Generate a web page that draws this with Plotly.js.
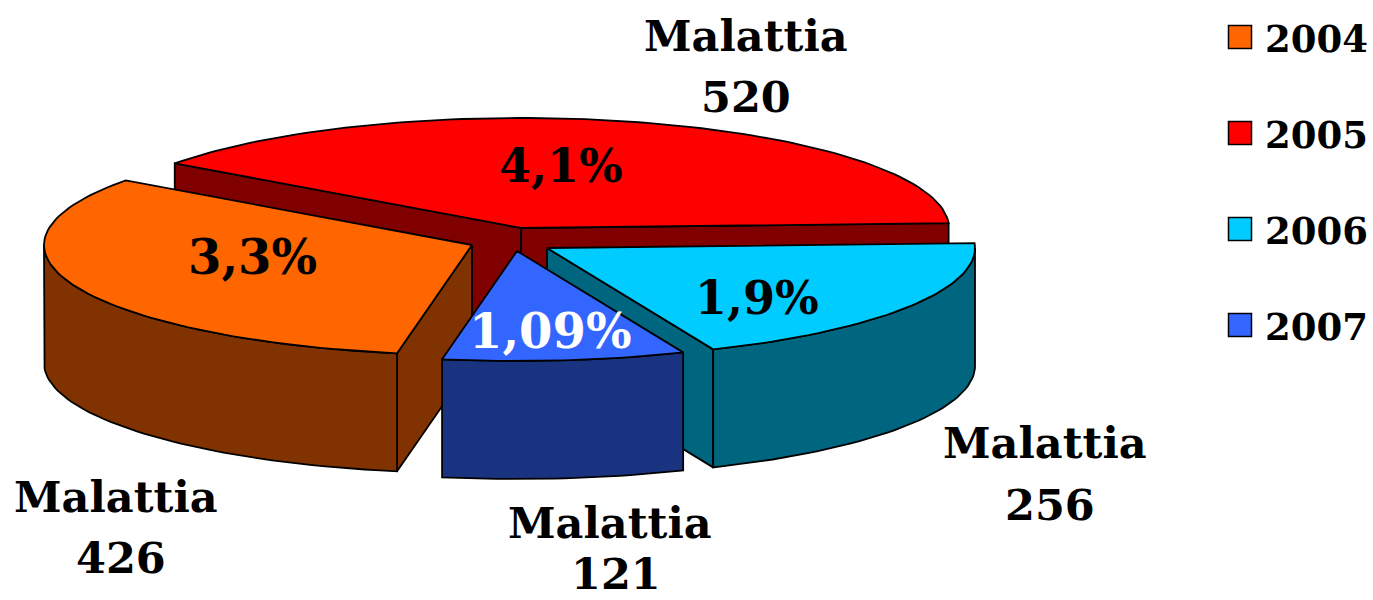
<!DOCTYPE html>
<html>
<head>
<meta charset="utf-8">
<script src="https://cdn.plot.ly/plotly-3.0.1.min.js"></script>
<style>html,body{margin:0;padding:0;background:#fff}#chart{width:1373px;height:600px}</style>
</head>
<body>
<div id="chart"></div>
<script>
// ---- data ----
var years = ['2004', '2005', '2006', '2007'];
var cases = [426, 520, 256, 121];
var rates = ['3,3%', '4,1%', '1,9%', '1,09%'];
var caseLabel = 'Malattia';

// ---- styles ----
var topColors  = ['#FF6600', '#FF0000', '#00CCFF', '#3366FF'];
var sideColors = ['#803300', '#800000', '#006680', '#1A3380'];
var rateColors = ['#000000', '#000000', '#000000', '#FFFFFF'];
var rateSizes  = [48, 46, 46, 48];

// ---- 3D projection parameters (canvas pixels) ----
var CX = 522, CY = 228, RX = 428, RY = 110, DEPTH = 118, START_DEG = 144;
var OFFSETS = [[-50, 17], [-1, 0], [25, 20], [-5, 23]];
var rateAnchors = [[252, 257], [561, 166], [757, 298], [550, 331]];
var labelAnchors = [[116, 497], [746, 36], [1045, 443], [610, 523]];
var valueAnchors = [[121, 558], [746, 97], [1050, 505], [616, 574]];
var legendX = 1240, legendY0 = 37, legendStep = 96;
var FONT = 'DejaVu Serif';

// slice angle spans from the values (clockwise from the start angle: red, cyan, blue, orange)
var total = cases.reduce(function (a, b) { return a + b; }, 0);
var order = [1, 2, 3, 0], spans = {}, cursor = START_DEG;
order.forEach(function (i) {
  var sweep = cases[i] / total * 360;
  spans[i] = [cursor, cursor - sweep];
  cursor -= sweep;
});
function rad(d) { return d * Math.PI / 180; }
function pt(i, deg, drop) {
  return [CX + OFFSETS[i][0] + RX * Math.cos(rad(deg)),
          CY + OFFSETS[i][1] - RY * Math.sin(rad(deg)) + (drop || 0)];
}
function apex(i, drop) { return [CX + OFFSETS[i][0], CY + OFFSETS[i][1] + (drop || 0)]; }
function arc(i, a, b, drop) {
  var pts = [], n = Math.max(2, Math.ceil(Math.abs(a - b) / 1.5));
  for (var k = 0; k <= n; k++) pts.push(pt(i, a + (b - a) * k / n, drop));
  return pts;
}
function poly(pts, fill, name) {
  var xs = pts.map(function (p) { return p[0]; });
  var ys = pts.map(function (p) { return p[1]; });
  xs.push(xs[0]); ys.push(ys[0]);
  return { type: 'scatter', mode: 'lines', x: xs, y: ys, fill: 'toself', fillcolor: fill,
           line: { color: '#000000', width: 1.8 }, hoverinfo: 'skip', showlegend: false, name: name };
}

var traces = [];
[1, 0, 2, 3].forEach(function (i) {
  var a = spans[i][0], b = spans[i][1], A = apex(i), Ad = apex(i, DEPTH), nm = years[i];
  // radial walls: a wall shows only where the top face lies above its edge
  if (Math.cos(rad(a)) < 0) traces.push(poly([A, pt(i, a), pt(i, a, DEPTH), Ad], sideColors[i], nm));
  if (Math.cos(rad(b)) > 0) traces.push(poly([A, pt(i, b), pt(i, b, DEPTH), Ad], sideColors[i], nm));
  // outer rim: only the front half of the ellipse faces the viewer
  var lo = Math.max(b, -180), hi = Math.min(a, 0);
  if (hi > lo) {
    traces.push(poly(arc(i, hi, lo, 0).concat(arc(i, lo, hi, DEPTH)), sideColors[i], nm));
  }
  // top face
  traces.push(poly([A].concat(arc(i, a, b, 0)), topColors[i], nm));
});

// legend swatches
traces.push({
  type: 'scatter', mode: 'markers', hoverinfo: 'skip', showlegend: false,
  x: years.map(function () { return legendX; }),
  y: years.map(function (_, k) { return legendY0 + k * legendStep; }),
  marker: { symbol: 'square', size: 23, color: topColors, line: { color: '#000000', width: 1.5 } }
});

var annotations = [];
function note(x, y, text, size, color, anchor) {
  annotations.push({ xref: 'x', yref: 'y', x: x, y: y, text: '<b>' + text + '</b>', showarrow: false,
    xanchor: anchor || 'center', yanchor: 'middle', borderpad: 0,
    font: { family: FONT, size: size, color: color || '#000000' } });
}
years.forEach(function (yr, i) {
  note(rateAnchors[i][0], rateAnchors[i][1], rates[i], rateSizes[i], rateColors[i]);
  note(labelAnchors[i][0], labelAnchors[i][1], caseLabel, 43);
  note(valueAnchors[i][0], valueAnchors[i][1], String(cases[i]), 43);
  note(1264, legendY0 + i * legendStep + 2, yr, 37, '#000000', 'left');
});

var layout = {
  width: 1373, height: 600, margin: { l: 0, r: 0, t: 0, b: 0 },
  paper_bgcolor: '#ffffff', plot_bgcolor: '#ffffff', showlegend: false,
  xaxis: { range: [0, 1373], visible: false, fixedrange: true },
  yaxis: { range: [600, 0], visible: false, fixedrange: true },
  annotations: annotations
};
Plotly.newPlot('chart', traces, layout, { displayModeBar: false, staticPlot: true });
</script>
</body>
</html>
